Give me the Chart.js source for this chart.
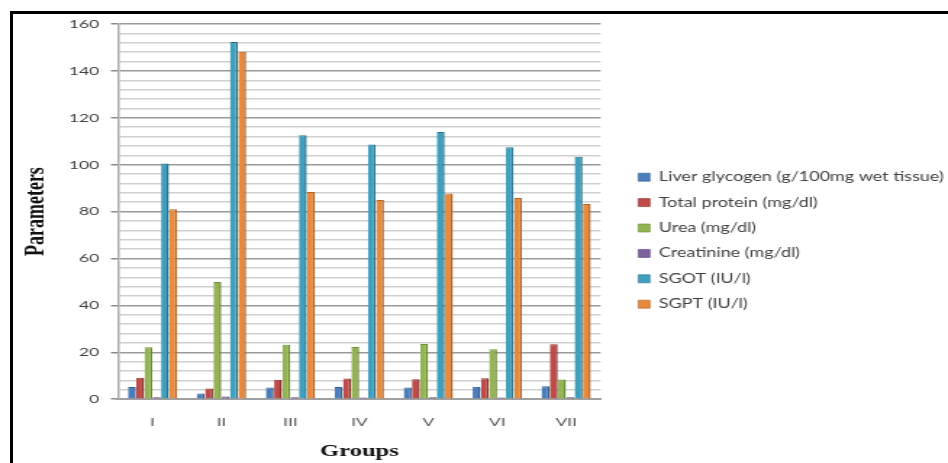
<!DOCTYPE html>
<html>
<head>
<meta charset="utf-8">
<script src="https://cdn.jsdelivr.net/npm/chart.js@4/dist/chart.umd.min.js"></script>
<style>
  html, body { margin: 0; padding: 0; background: #fff; }
  body { width: 948px; height: 463px; position: relative; overflow: hidden; }
  #frame {
    position: absolute; left: 10px; top: 11px; width: 960px; height: 470px;
    border-top: 3px solid #000; border-left: 3px solid #000;
  }
  /* chart is laid out narrow and widened horizontally */
  #chart {
    position: absolute; left: 0; top: 0;
    transform-origin: 0 0;
    transform: scaleX(1.4495);
  }
</style>
</head>
<body>
<div id="frame"></div>
<canvas id="chart" width="654" height="463"></canvas>
<script>
const groups = ['I', 'II', 'III', 'IV', 'V', 'VI', 'VII'];

const liverGlycogen = [5.2, 2.4, 5.0, 5.2, 5.0, 5.3, 5.5];
const totalProtein  = [9.2, 4.6, 8.3, 8.8, 8.5, 8.9, 23.4];
const urea          = [22.2, 50.0, 23.2, 22.3, 23.5, 21.3, 8.4];
const creatinine    = [0.8, 1.1, 0.8, 0.7, 0.8, 0.7, 0.8];
const sgot          = [100.5, 152.3, 112.6, 108.6, 113.9, 107.4, 103.4];
const sgpt          = [81.0, 148.2, 88.4, 85.0, 87.7, 85.8, 83.2];

const seriesNames = [
  'Liver glycogen (g/100mg wet tissue)',
  'Total protein (mg/dl)',
  'Urea (mg/dl)',
  'Creatinine (mg/dl)',
  'SGOT (IU/l)',
  'SGPT (IU/l)'
];

const fills   = ['#4a7dbb', '#be4b48', '#94b454', '#7e62a0', '#3f9fbd', '#e88a3e'];
const edges   = ['#345d8f', '#8c3331', '#6d8a37', '#5a4578', '#2a7490', '#b2642a'];
const seriesValues = [liverGlycogen, totalProtein, urea, creatinine, sgot, sgpt];

const datasets = seriesValues.map((vals, i) => ({
  label: seriesNames[i],
  data: vals,
  backgroundColor: fills[i],
  borderColor: edges[i],
  borderWidth: { top: 1, right: 1.5, bottom: 0, left: 0 },
  borderSkipped: false,
  barPercentage: 0.95,
  categoryPercentage: 0.72
}));

// move the legend block into its place beside the plot
const legendPlacement = {
  id: 'legendPlacement',
  afterLayout(chart) {
    const lg = chart.legend;
    if (!lg) return;
    const dx = chart.chartArea.right + 13 - lg.left;
    const dy = 158 - lg.top;
    lg.left += dx; lg.right += dx;
    lg.top += dy; lg.bottom += dy;
  }
};

new Chart(document.getElementById('chart'), {
  type: 'bar',
  data: { labels: groups, datasets },
  plugins: [legendPlacement],
  options: {
    responsive: false,
    devicePixelRatio: 1,
    animation: false,
    layout: { padding: { left: 15, top: 24, right: 6, bottom: 0 } },
    plugins: {
      tooltip: { enabled: false },
      legend: {
        position: 'right',
        align: 'start',
        maxWidth: 400,
        labels: {
          boxWidth: 8,
          boxHeight: 8,
          padding: 13,
          color: '#404040',
          font: { family: 'Lato', size: 12.4 }
        }
      }
    },
    scales: {
      x: {
        grid: { display: false, drawOnChartArea: false, drawTicks: false },
        border: { display: true, color: '#a0a0a0', width: 2 },
        ticks: {
          padding: 16,
          color: '#555',
          font: { family: 'Lato', size: 12 }
        },
        title: {
          display: true,
          text: 'Groups',
          color: '#111',
          font: { family: 'Liberation Serif', size: 17, weight: 'bold' },
          padding: { top: -4, bottom: 1 }
        }
      },
      y: {
        min: 0,
        max: 160,
        ticks: {
          stepSize: 4,
          autoSkip: false,
          padding: 8,
          color: '#404040',
          font: { family: 'Lato', size: 12 },
          callback: v => (v % 20 === 0 ? v : '')
        },
        grid: {
          tickLength: 5,
          lineWidth: 1.5,
          color: ctx => (ctx.tick && ctx.tick.value % 20 === 0 ? '#9a9a9a' : '#cfcfcf'),
          tickColor: ctx => (ctx.tick && ctx.tick.value % 20 === 0 ? '#8a8a8a' : 'rgba(0,0,0,0)')
        },
        border: { display: true, color: '#a8a8a8', width: 1.5 },
        title: {
          display: true,
          text: 'Parameters',
          color: '#111',
          font: { family: 'Liberation Serif', size: 18, weight: 'bold' },
          padding: { top: 0, bottom: 3 }
        }
      }
    }
  }
});
</script>
</body>
</html>
